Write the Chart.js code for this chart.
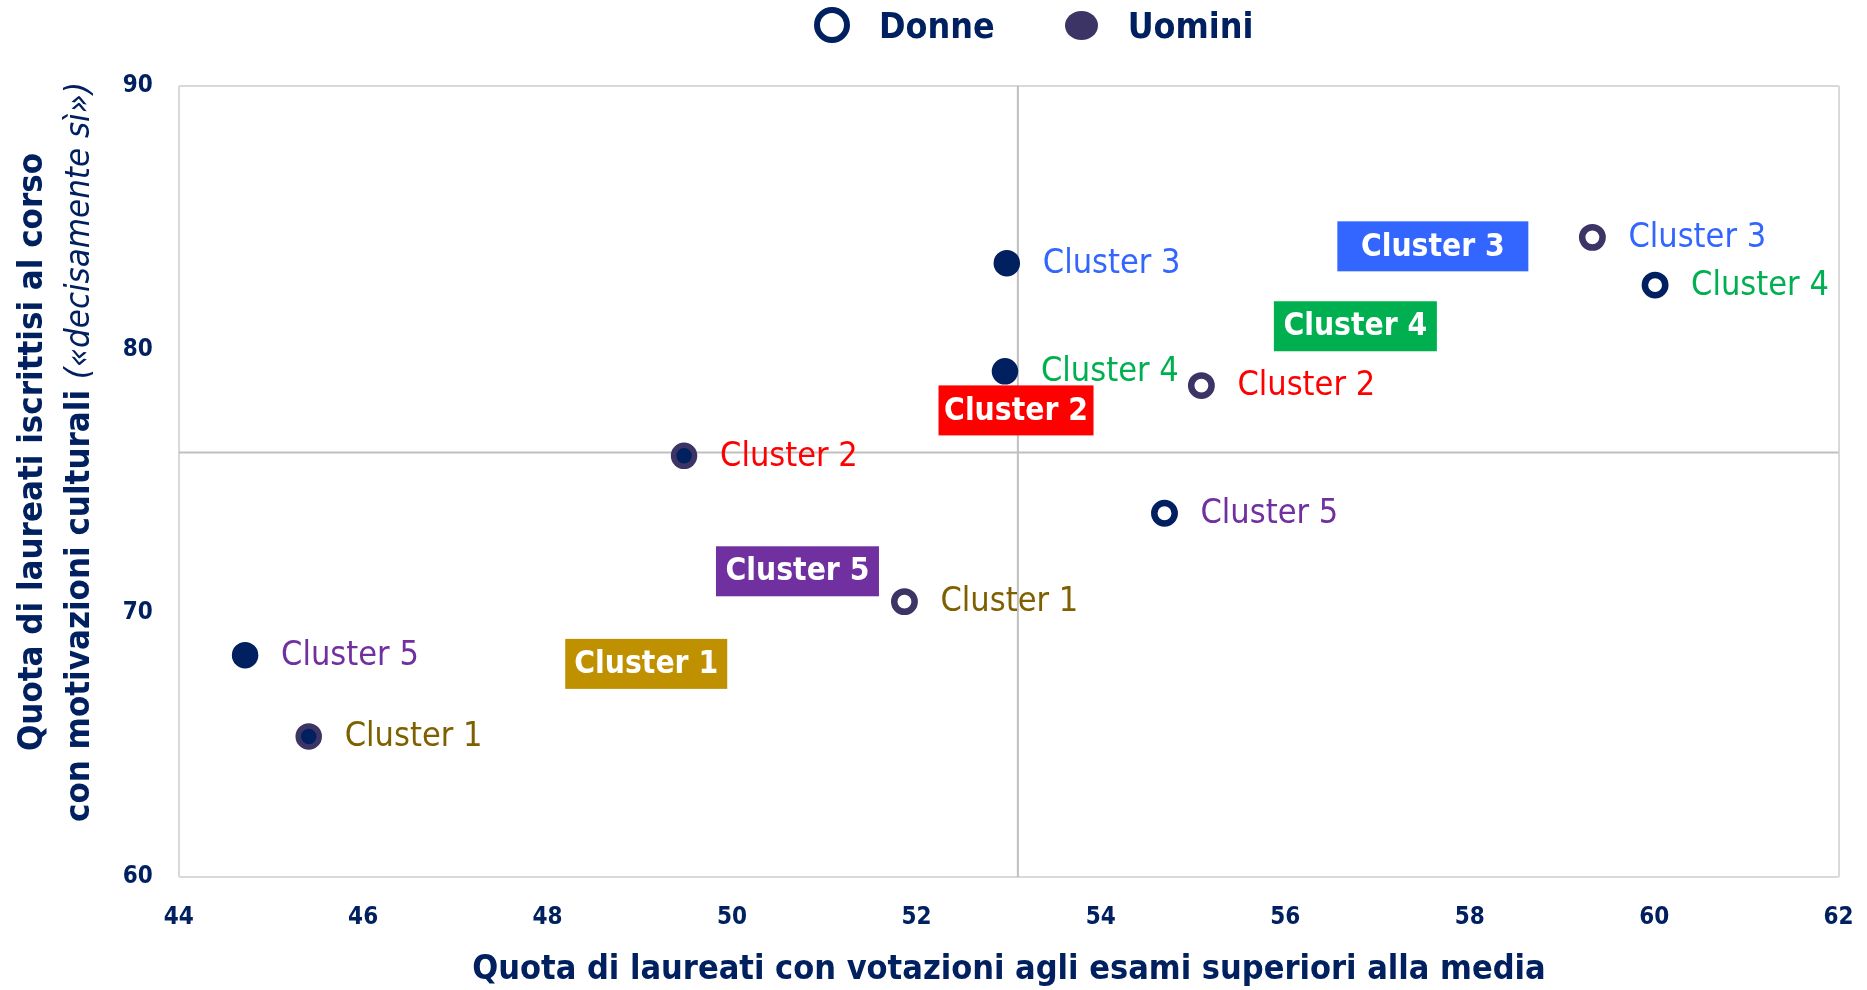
<!DOCTYPE html>
<html lang="it">
<head>
<meta charset="utf-8">
<title>Cluster - laureati</title>
<script src="https://cdn.jsdelivr.net/npm/chart.js@4.4.1/dist/chart.umd.min.js"></script>
<style>
    html, body { margin: 0; padding: 0; background: #ffffff; }
    #wrap { position: relative; width: 1867px; height: 990px; overflow: hidden; }
    #chart { position: absolute; left: 0; top: 0; }
    .txt { font-family: "DejaVu Sans Condensed", "DejaVu Sans", sans-serif; color: #002060; }
    #legend { position: absolute; left: 814px; top: 5px; height: 40px; display: flex; align-items: center; font-weight: bold; font-size: 35.5px; }
    #legend .ring { width: 24px; height: 24px; border: 6.5px solid #002060; border-radius: 50%; margin-right: 29px; }
    #legend .dot { width: 33px; height: 29px; background: #3d3466; border-radius: 50%; margin-left: 70px; margin-right: 30px; }
    #xTitle { position: absolute; left: 179px; width: 1660px; top: 947px; height: 40px; line-height: 40px; text-align: center; font-weight: bold; font-size: 34px; white-space: nowrap; }
    #yTitle { position: absolute; left: -346px; top: 405px; width: 800px; height: 94px; line-height: 47px; text-align: center; font-weight: bold; font-size: 34.5px; white-space: nowrap; transform: rotate(-90deg); }
    #yTitle i { font-weight: normal; }
</style>
</head>
<body>
<div id="wrap">
    <canvas id="chart" width="1867" height="990"></canvas>
    <div id="legend" class="txt"><span class="ring"></span><span>Donne</span><span class="dot"></span><span>Uomini</span></div>
    <div id="xTitle" class="txt">Quota di laureati con votazioni agli esami superiori alla media</div>
    <div id="yTitle" class="txt">Quota di laureati iscrittisi al corso<br>con motivazioni culturali <i>(«decisamente sì»)</i></div>
</div>
<script>
var clusterNames = ['Cluster 1', 'Cluster 2', 'Cluster 3', 'Cluster 4', 'Cluster 5'];

// Donne (hollow markers)
var donneX = [51.87, 55.09, 59.33, 60.01, 54.69];
var donneY = [70.44, 78.63, 84.25, 82.44, 73.79];

// Uomini (filled markers)
var uominiX = [45.41, 49.48, 52.98, 52.96, 44.72];
var uominiY = [65.33, 75.97, 83.27, 79.17, 68.41];

// Totale cluster (coloured boxes)
var totaleX = [49.07, 53.08, 57.60, 56.76, 50.71];
var totaleY = [68.08, 77.69, 83.91, 80.88, 71.59];

// Medie generali (crosshair)
var mediaX = 53.10;
var mediaY = 76.09;

var xTicks = [44, 46, 48, 50, 52, 54, 56, 58, 60, 62];
var yTicks = [60, 70, 80, 90];

document.addEventListener('DOMContentLoaded', function () {
    var FONT = '"DejaVu Sans Condensed", "DejaVu Sans", sans-serif';
    var NAVY = '#002060';
    var PURPLE = '#3d3466';

    var labelColors = ['#7f6000', '#ff0000', '#3366ff', '#00b050', '#7030a0'];
    var badgeColors = ['#bf9000', '#ff0000', '#3366ff', '#00b050', '#7030a0'];
    var badgeWidths = [162, 155, 191, 163, 163];
    var donneBorders = [PURPLE, PURPLE, PURPLE, NAVY, NAVY];
    var uominiBorders = [PURPLE, PURPLE, NAVY, NAVY, NAVY];

    function pairs(xs, ys) {
        return xs.map(function (x, i) { return { x: x, y: ys[i] }; });
    }

    var xMin = xTicks[0], xMax = xTicks[xTicks.length - 1];
    var yMin = yTicks[0], yMax = yTicks[yTicks.length - 1];

    var clusterLabels = {
        id: 'clusterLabels',
        afterDatasetsDraw: function (chart) {
            var ctx = chart.ctx;
            ctx.save();

            ctx.font = 'bold 31.5px ' + FONT;
            ctx.textAlign = 'center';
            ctx.textBaseline = 'middle';
            chart.getDatasetMeta(2).data.forEach(function (pt, i) {
                var w = badgeWidths[i], h = 50;
                ctx.fillStyle = badgeColors[i];
                ctx.fillRect(pt.x - w / 2, pt.y - h / 2, w, h);
                ctx.fillStyle = '#ffffff';
                ctx.fillText(clusterNames[i], pt.x, pt.y + 1);
            });

            ctx.font = '34px ' + FONT;
            ctx.textAlign = 'left';
            [0, 1].forEach(function (di) {
                chart.getDatasetMeta(di).data.forEach(function (pt, i) {
                    ctx.fillStyle = labelColors[i];
                    ctx.fillText(clusterNames[i], pt.x + 36, pt.y + 1);
                });
            });
            ctx.restore();
        }
    };

    function edgeOnly(min, max) {
        return function (c) {
            var v = c.tick ? c.tick.value : null;
            return (v === min || v === max) ? '#d9d9d9' : 'rgba(0,0,0,0)';
        };
    }

    new Chart(document.getElementById('chart'), {
        type: 'scatter',
        data: {
            datasets: [
                {
                    label: 'Donne',
                    data: pairs(donneX, donneY),
                    backgroundColor: '#ffffff',
                    borderColor: donneBorders,
                    borderWidth: 6.5,
                    pointRadius: 10.2,
                    order: 1
                },
                {
                    label: 'Uomini',
                    data: pairs(uominiX, uominiY),
                    backgroundColor: NAVY,
                    borderColor: uominiBorders,
                    borderWidth: 5.5,
                    pointRadius: 10.5,
                    order: 1
                },
                {
                    label: 'Totale',
                    data: pairs(totaleX, totaleY),
                    pointRadius: 0,
                    order: 2
                },
                {
                    type: 'line',
                    label: 'Media x',
                    data: [{ x: mediaX, y: yMin }, { x: mediaX, y: yMax }],
                    borderColor: '#bfbfbf',
                    borderWidth: 2,
                    pointRadius: 0,
                    fill: false,
                    order: 3
                },
                {
                    type: 'line',
                    label: 'Media y',
                    data: [{ x: xMin, y: mediaY }, { x: xMax, y: mediaY }],
                    borderColor: '#bfbfbf',
                    borderWidth: 2,
                    pointRadius: 0,
                    fill: false,
                    order: 3
                }
            ]
        },
        options: {
            responsive: false,
            animation: false,
            events: [],
            layout: { padding: { top: 85.7, right: 28.4, left: 0, bottom: 0 } },
            scales: {
                x: {
                    type: 'linear',
                    min: xMin,
                    max: xMax,
                    afterBuildTicks: function (s) { s.ticks = xTicks.map(function (v) { return { value: v }; }); },
                    afterFit: function (s) {
                        s.height = 113;
                        s.paddingLeft = 0;
                        s.paddingRight = 0;
                    },
                    grid: { color: edgeOnly(xMin, xMax), lineWidth: 2, drawTicks: false },
                    border: { display: false },
                    ticks: {
                        padding: 26,
                        color: NAVY,
                        font: { family: FONT, size: 24, weight: 'bold' }
                    }
                },
                y: {
                    type: 'linear',
                    min: yMin,
                    max: yMax,
                    afterBuildTicks: function (s) { s.ticks = yTicks.map(function (v) { return { value: v }; }); },
                    afterFit: function (s) { s.width = 178.7; },
                    grid: { color: edgeOnly(yMin, yMax), lineWidth: 2, drawTicks: false },
                    border: { display: false },
                    ticks: {
                        padding: 26,
                        color: NAVY,
                        font: { family: FONT, size: 24, weight: 'bold' }
                    }
                }
            },
            plugins: {
                legend: { display: false },
                tooltip: { enabled: false },
                title: { display: false }
            }
        },
        plugins: [clusterLabels]
    });
});
</script>
</body>
</html>
